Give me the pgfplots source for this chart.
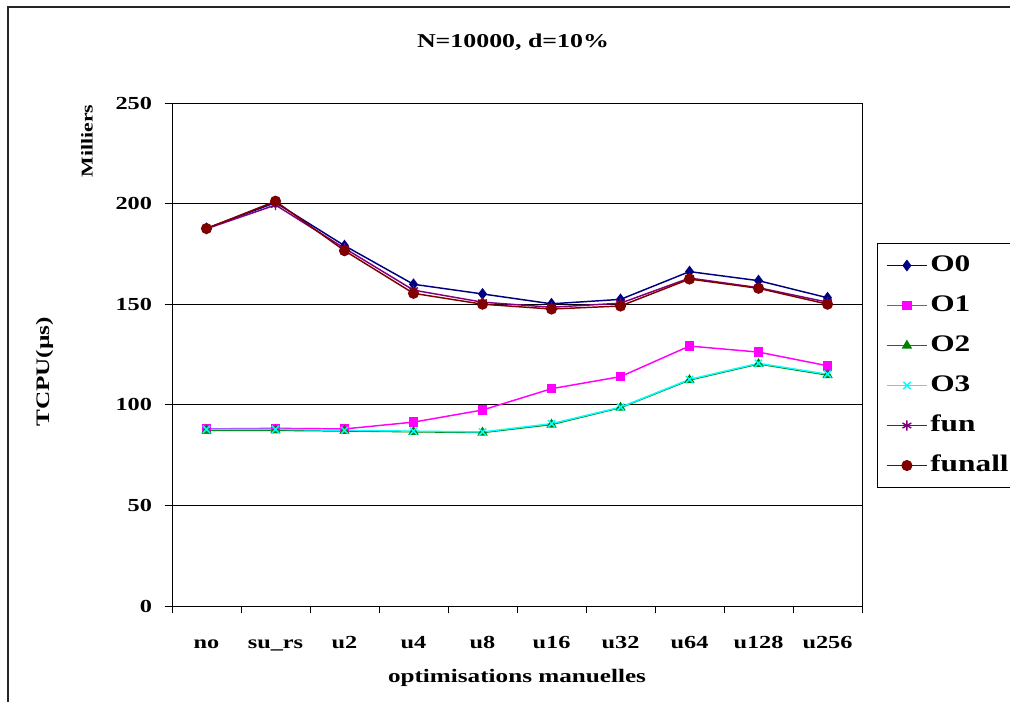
\documentclass[border=0pt]{standalone}
\usepackage{fontspec}
\setmainfont[FakeStretch=1.32]{Liberation Serif}
\usepackage{pgfplots}
\pgfplotsset{compat=1.18}
\definecolor{cO0}{RGB}{0,0,128}
\definecolor{cO1}{RGB}{255,0,255}
\definecolor{cO2}{RGB}{0,128,0}
\definecolor{cO3}{RGB}{0,255,255}
\definecolor{cfun}{RGB}{128,0,128}
\definecolor{cfunall}{RGB}{128,0,0}
\begin{document}
\begin{tikzpicture}
\useasboundingbox (0,0) rectangle (757.5pt,-526.5pt);
\draw[line width=1.2pt, black!85] (6pt,-530pt) -- (6pt,-5.25pt) -- (760pt,-5.25pt);
\node[font=\bfseries\fontsize{14.7}{17}\selectfont] at (384.75pt,-31.5pt) {N=10000, d=10\%};
\node[font=\bfseries\fontsize{14.3}{17}\selectfont, rotate=90] at (33.4pt,-279pt) {TCPU(µs)};
\node[font=\bfseries\fontsize{12.4}{15}\selectfont, rotate=90] at (65.25pt,-105.75pt) {Milliers};
\begin{axis}[
  at={(129pt,-454.5pt)}, anchor=south west,
  scale only axis, width=517.5pt, height=377.25pt,
  xmin=-0.5, xmax=9.5, ymin=0, ymax=250,
  xtick={-0.5,0.5,...,9.5},
  x tick label as interval,
  xticklabels={no,su\_rs,u2,u4,u8,u16,u32,u64,u128,u256},
  ytick={0,50,...,250},
  xtick pos=bottom, ytick pos=left,
  tick align=outside, major tick length=5.5pt,
  tick style={black, line width=0.6pt},
  ymajorgrids, grid style={black, line width=0.6pt},
  axis line style={black, line width=0.7pt},
  /pgf/number format/assume math mode=true,
  ticklabel style={font=\bfseries\fontsize{13.8}{16}\selectfont},
  xticklabel style={anchor=north, text height=9.5pt, text depth=3pt, yshift=-13pt},
  yticklabel style={xshift=-6pt},
  xlabel={optimisations manuelles},
  xlabel style={font=\bfseries\fontsize{14.3}{17}\selectfont, yshift=-6pt},
  every axis plot/.append style={line width=1.1pt},
  legend cell align=left,
  legend image code/.code={\draw[mark repeat=2,mark phase=2,#1] plot coordinates {(0pt,0pt) (15pt,0pt) (30pt,0pt)};},
  legend style={at={(1.0217,0.7217)}, anchor=north west, draw=black, line width=0.8pt,
    font=\bfseries\fontsize{17.8}{21}\selectfont, inner sep=6.5pt, row sep=10pt,
    nodes={text height=12.5pt, text depth=3.5pt, inner sep=2pt}},
]
\addplot[color=cO0, mark=diamond*, mark size=3.6pt] coordinates {(0,187.7)(1,200.5)(2,179.1)(3,159.9)(4,155.1)(5,150.2)(6,152.4)(7,166.2)(8,161.7)(9,153.2)};
\addlegendentry{O0}
\addplot[color=cO1, mark=square*, mark size=3pt] coordinates {(0,88)(1,88.3)(2,88)(3,91.4)(4,97.4)(5,108)(6,114)(7,129.2)(8,126.2)(9,119.4)};
\addlegendentry{O1}
\addplot[color=cO2, mark=triangle*, mark size=3.4pt] coordinates {(0,87.3)(1,87.3)(2,87)(3,86.6)(4,86.2)(5,90.2)(6,98.6)(7,112.3)(8,120.3)(9,114.8)};
\addlegendentry{O2}
\addplot[color=cO3, mark=x, mark size=3.8pt] coordinates {(0,87.8)(1,87.8)(2,87.3)(3,86.9)(4,86.5)(5,90.6)(6,98.8)(7,112.6)(8,120.6)(9,115.2)};
\addlegendentry{O3}
\addplot[color=cfun, mark=asterisk, mark size=3.8pt] coordinates {(0,187.5)(1,199.3)(2,177.8)(3,157)(4,151)(5,148.5)(6,150.5)(7,163)(8,158.2)(9,151)};
\addlegendentry{fun}
\addplot[color=cfunall, mark=*, mark size=3.6pt] coordinates {(0,187.6)(1,201.2)(2,176.6)(3,155.4)(4,150)(5,147.6)(6,149.1)(7,162.5)(8,157.9)(9,150)};
\addlegendentry{funall}
\end{axis}
\end{tikzpicture}
\end{document}
